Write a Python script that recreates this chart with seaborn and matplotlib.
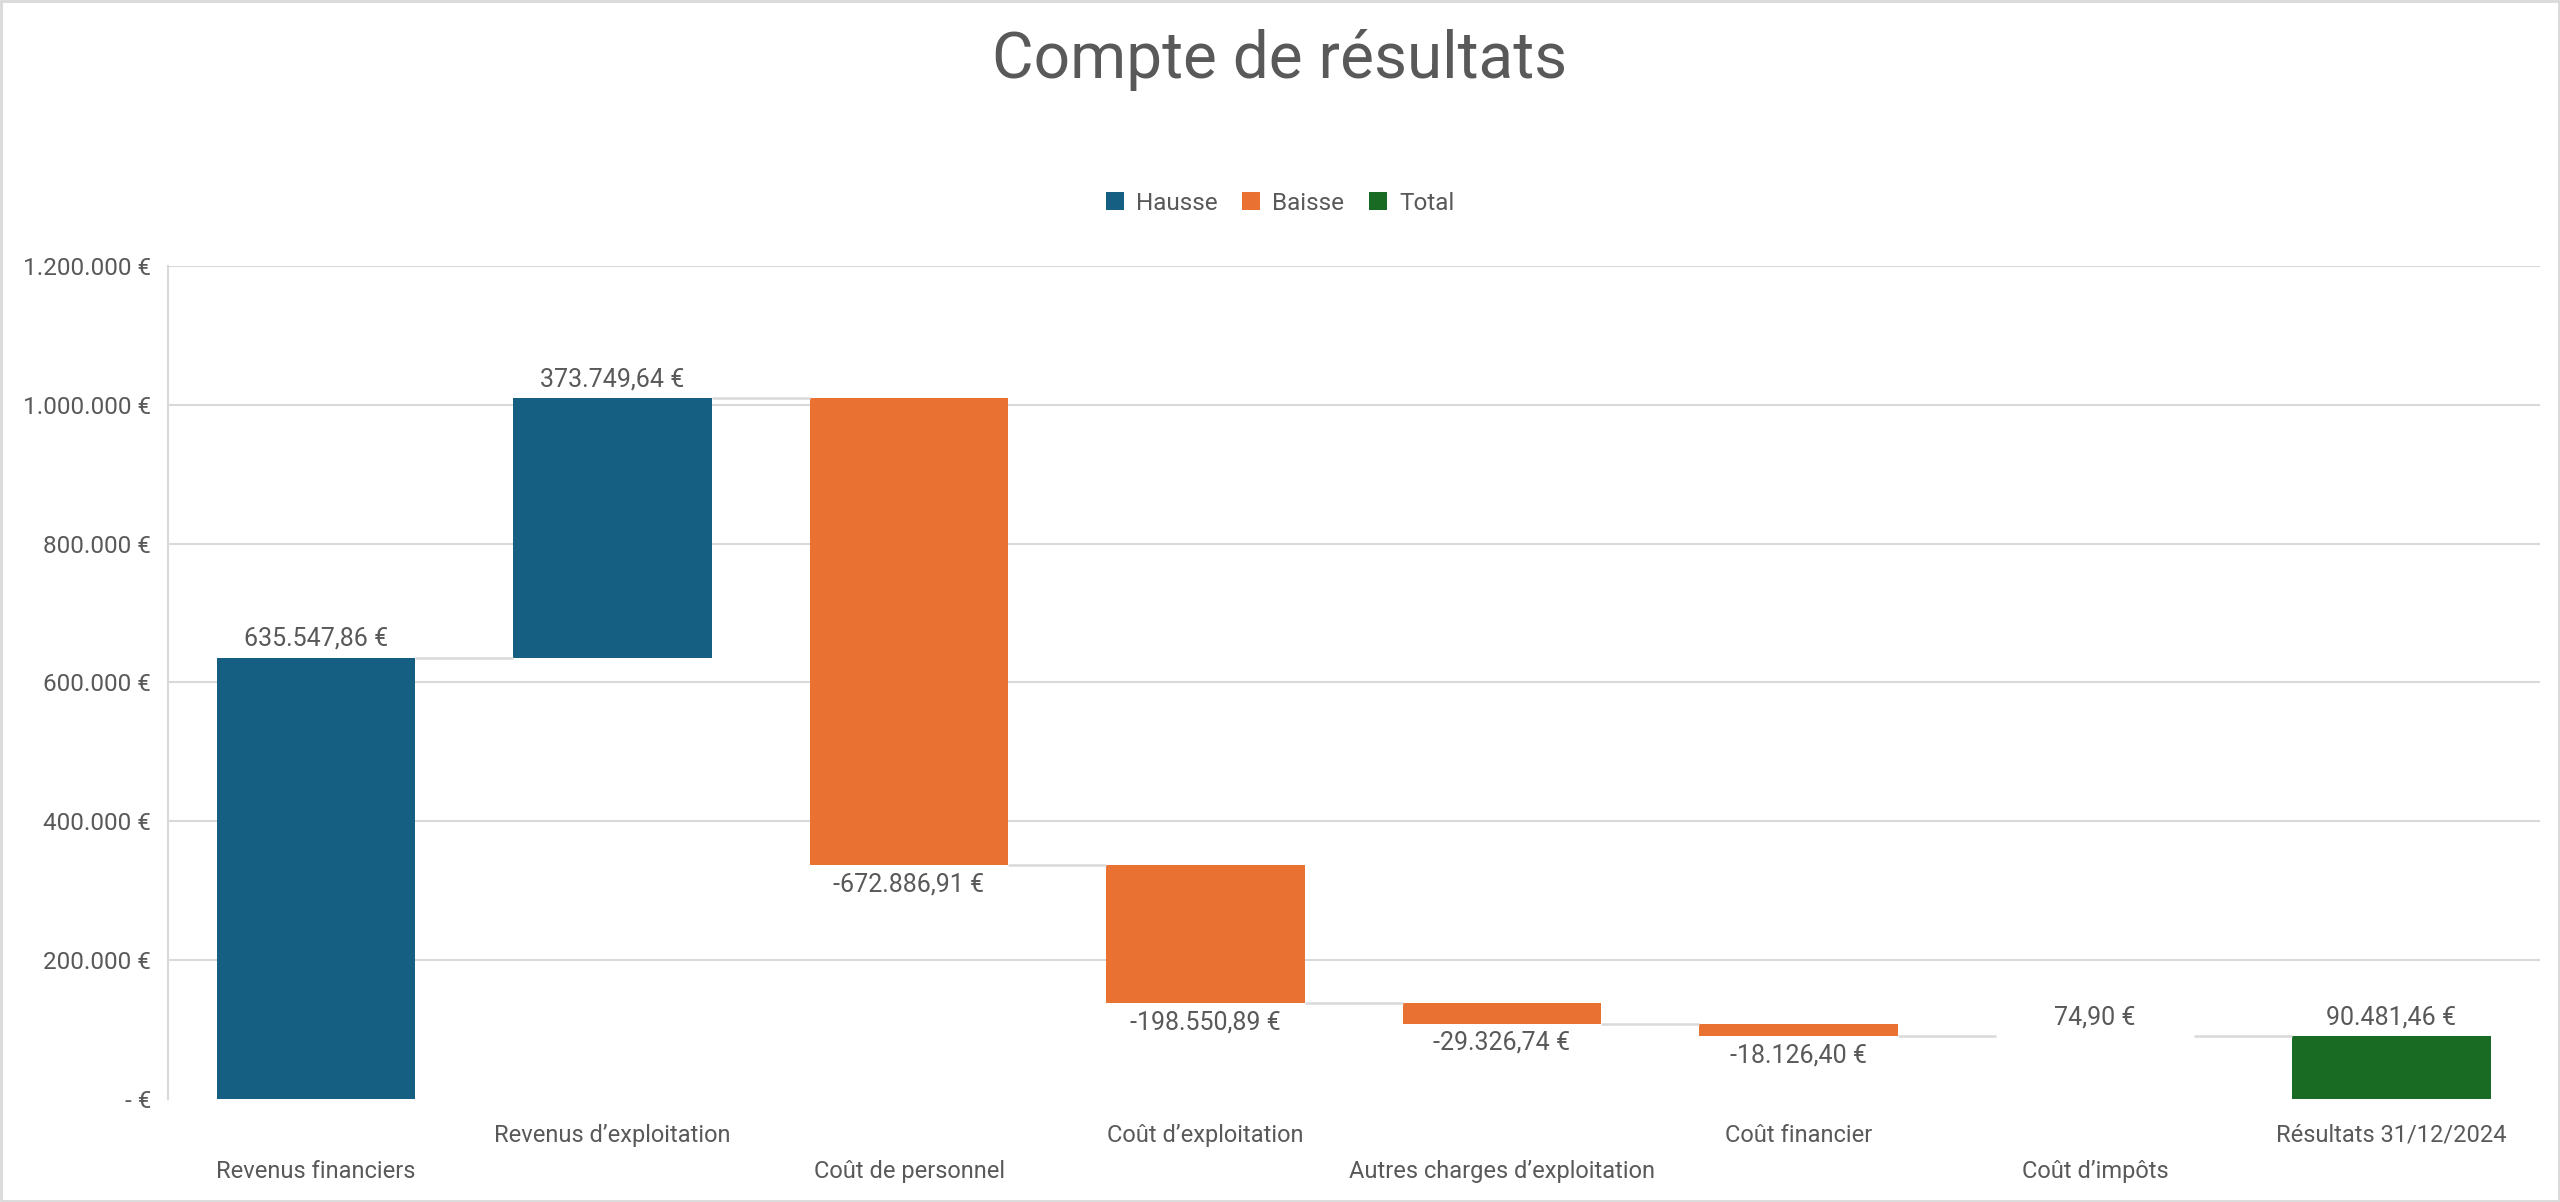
import numpy as np
import pandas as pd
import matplotlib
matplotlib.use("Agg")
import matplotlib.pyplot as plt
import matplotlib.patches as mpatches
import seaborn as sns

# ---------------- Data ----------------
categories = ["Revenus financiers", "Revenus d\u2019exploitation", "Coût de personnel",
              "Coût d\u2019exploitation", "Autres charges d\u2019exploitation",
              "Coût financier", "Coût d\u2019impôts", "Résultats 31/12/2024"]
values = [635547.86, 373749.64, -672886.91, -198550.89, -29326.74, -18126.40, 74.90, 90481.46]
kinds = ["Hausse", "Hausse", "Baisse", "Baisse", "Baisse", "Baisse", "Hausse", "Total"]
y_ticks = [0, 200000, 400000, 600000, 800000, 1000000, 1200000]

colors = {"Hausse": "#156082", "Baisse": "#E97132", "Total": "#196B24"}
text_col = "#595959"
grid_col = "#D9D9D9"


def eur(v):
    s = f"{v:,.2f}".replace(",", " ").replace(".", ",").replace(" ", ".")
    return s + " €"


def eur_tick(v, pos=None):
    if v == 0:
        return "- €"
    return f"{v:,.0f}".replace(",", ".") + " €"


# bottoms / tops of the floating bars
bottoms, tops = [], []
running = 0.0
for v, k in zip(values, kinds):
    if k == "Total":
        bottoms.append(0.0)
        tops.append(v)
        running = v
    else:
        start = running
        running = start + v
        bottoms.append(min(start, running))
        tops.append(max(start, running))

df = pd.DataFrame({"Poste": categories, "Montant": np.abs(values), "Type": kinds})

# ---------------- Plot ----------------
sns.set_theme(style="white")
plt.rcParams["font.family"] = ["Liberation Sans Narrow", "Roboto", "DejaVu Sans"]

fig = plt.figure(figsize=(25.6, 12.02), dpi=100)
ax = fig.add_axes([0.0656, 0.0857, 0.9264, 0.693])

sns.barplot(data=df, x="Poste", y="Montant", hue="Type", hue_order=["Hausse", "Baisse", "Total"],
            palette=colors, order=categories, dodge=False, width=0.67, errorbar=None,
            saturation=1, ax=ax)

# move each bar to its floating position
for p in ax.patches:
    idx = int(round(p.get_x() + p.get_width() / 2))
    p.set_y(bottoms[idx])
    p.set_linewidth(0)

# connector lines
half = 0.335
for i in range(len(values) - 1):
    level = tops[i] if values[i] >= 0 else bottoms[i]
    ax.plot([i + half, i + 1 - half], [level, level], color=grid_col, lw=1.8, zorder=1,
            solid_capstyle="butt")

# data labels
for i, v in enumerate(values):
    if v >= 0:
        ax.annotate(eur(v), (i, tops[i]), xytext=(0, 5), textcoords="offset points",
                    ha="center", va="bottom", fontsize=18, color=text_col)
    else:
        ax.annotate(eur(v), (i, bottoms[i]), xytext=(0, -5), textcoords="offset points",
                    ha="center", va="top", fontsize=18, color=text_col)

ax.set_ylim(0, 1200000)
ax.set_xlim(-0.5, len(categories) - 0.5)
ax.set_yticks(y_ticks)
ax.yaxis.set_major_formatter(plt.FuncFormatter(eur_tick))
ax.grid(axis="y", color=grid_col, lw=1.5)
ax.set_axisbelow(True)
ax.yaxis.get_gridlines()[0].set_visible(False)
for s in ["top", "right", "bottom"]:
    ax.spines[s].set_visible(False)
ax.spines["left"].set_color(grid_col)
ax.spines["left"].set_linewidth(1.5)
ax.set_xlabel("")
ax.set_ylabel("")
ax.tick_params(axis="both", length=0, labelsize=17.5, labelcolor=text_col)
ax.tick_params(axis="y", pad=12)
ax.tick_params(axis="x", labelsize=17)

# staggered category labels
for i, t in enumerate(ax.xaxis.get_major_ticks()):
    t.set_pad(18 if i % 2 == 1 else 44)

# legend
handles, labels = ax.get_legend_handles_labels()
if ax.legend_:
    ax.legend_.remove()
fig.legend(handles, labels, loc="center", bbox_to_anchor=(0.5, 0.831), ncol=3, frameon=False,
           fontsize=17.5, labelcolor=text_col, handlelength=0.75, handleheight=0.75,
           handletextpad=0.5, columnspacing=1.0)

fig.text(0.5, 0.95, "Compte de résultats", ha="center", va="center", fontsize=46, color=text_col)

fig.patches.append(mpatches.Rectangle((0.0005, 0.0008), 0.999, 0.9984, transform=fig.transFigure,
                                      fill=False, edgecolor=grid_col, lw=2))

fig.savefig("out.png", dpi=100, facecolor="white")
